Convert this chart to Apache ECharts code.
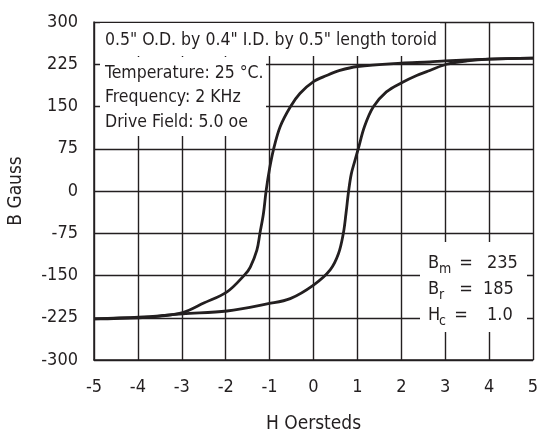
<!DOCTYPE html>
<html>
<head>
<meta charset="utf-8">
<script src="https://cdn.jsdelivr.net/npm/echarts@6/dist/echarts.min.js"></script>
<style>
  html, body { margin: 0; padding: 0; background: #fff; }
  #main { width: 543px; height: 432px; }
</style>
</head>
<body>
<div id="main"></div>
<script>
// descending branch (from +Hmax back to -Hmax)
var downH = [5, 4, 3, 2.65, 2, 1, 0.6, 0.3, 0, -0.31, -0.53, -0.76, -0.91, -1.0, -1.08, -1.14, -1.22, -1.29, -1.44, -1.56, -1.97, -2.5, -2.98, -3.49, -3.98, -5];
var downB = [236, 234, 231, 229, 227, 221, 214, 205, 194, 173, 149, 114, 74, 40, 0, -40, -75, -105, -135, -148, -179, -199, -216, -222, -225, -227];
// ascending branch
var upH = [-5, -3.98, -2.98, -1.97, -1.03, -0.53, 0, 0.38, 0.57, 0.68, 0.74, 0.8, 0.86, 0.94, 1.02, 1.16, 1.36, 1.66, 2.03, 2.35, 2.65, 3.03, 3.5, 4, 5];
var upB = [-227, -224, -218, -213, -200, -191, -167, -140, -111, -75, -40, 0, 30, 53, 75, 114, 149, 176, 193, 205, 214, 225, 231, 234, 236];

var xTicks = [-5, 5, 1];
var yTicks = [-300, 300, 75];

var titleText = '0.5" O.D. by 0.4" I.D. by 0.5" length toroid';
var condLines = ['Temperature: 25 °C.', 'Frequency: 2 KHz', 'Drive Field: 5.0 oe'];
var paramMain = ['B', 'B', 'H'];
var paramSub = ['m', 'r', 'c'];
var paramVal = ['235', '185', '1.0'];

var FONT = '"Liberation Sans Narrow", "DejaVu Sans Condensed", Arial, sans-serif';
var INK = '#231f20';

function zip(a, b) {
  var out = [];
  for (var i = 0; i < a.length; i++) out.push([a[i], b[i]]);
  return out;
}

function txt(x, y, s, size, align) {
  return {
    type: 'text', x: x, y: y, z: 10,
    style: { text: s, fill: INK, font: size + 'px ' + FONT, align: align || 'left', verticalAlign: 'middle' }
  };
}

var graphics = [
  { type: 'rect', z: 5, shape: { x: 100, y: 23, width: 340, height: 33 }, style: { fill: '#fff' } },
  { type: 'rect', z: 5, shape: { x: 100, y: 57, width: 166, height: 79 }, style: { fill: '#fff' } },
  { type: 'rect', z: 5, shape: { x: 420, y: 242, width: 107, height: 90 }, style: { fill: '#fff' } },
  txt(105, 40, titleText, 17.5)
];
for (var i = 0; i < condLines.length; i++) {
  graphics.push(txt(105, 73 + i * 24.5, condLines[i], 17.5));
}
var rowY = [263, 289, 315];
var eqX = [466, 466, 461];
var valX = [487, 483, 487];
for (var j = 0; j < 3; j++) {
  graphics.push(txt(428, rowY[j], paramMain[j], 18));
  graphics.push(txt(439, rowY[j] + 6, paramSub[j], 14));
  graphics.push(txt(eqX[j], rowY[j], '=', 18, 'center'));
  graphics.push(txt(valX[j], rowY[j], paramVal[j], 18));
}

var chart = echarts.init(document.getElementById('main'));
var option = {
  backgroundColor: '#fff',
  animation: false,
  textStyle: { fontFamily: FONT },
  grid: { left: 94, right: 10, top: 22, bottom: 72, outerBoundsMode: 'none' },
  xAxis: {
    type: 'value', min: xTicks[0], max: xTicks[1], interval: xTicks[2],
    name: 'H Oersteds', nameLocation: 'middle', nameGap: 55,
    nameTextStyle: { fontSize: 19, color: INK, fontFamily: FONT },
    axisLine: { show: true, onZero: false, lineStyle: { color: INK, width: 1.5 } },
    axisTick: { show: false },
    axisLabel: { fontSize: 18, color: INK, margin: 18, fontFamily: FONT },
    splitLine: { show: true, lineStyle: { color: INK, width: 1.4 } }
  },
  yAxis: {
    type: 'value', min: yTicks[0], max: yTicks[1], interval: yTicks[2],
    name: 'B Gauss', nameLocation: 'middle', nameGap: 68,
    nameTextStyle: { fontSize: 19, color: INK, fontFamily: FONT },
    axisLine: { show: true, onZero: false, lineStyle: { color: INK, width: 1.5 } },
    axisTick: { show: false },
    axisLabel: { fontSize: 18, color: INK, margin: 16, fontFamily: FONT },
    splitLine: { show: true, lineStyle: { color: INK, width: 1.4 } }
  },
  series: [{
    type: 'line', data: zip(downH, downB), smooth: 0.35, showSymbol: false, z: 20,
    lineStyle: { color: INK, width: 2.8 }
  }, {
    type: 'line', data: zip(upH, upB), smooth: 0.35, showSymbol: false, z: 20,
    lineStyle: { color: INK, width: 2.8 }
  }],
  graphic: graphics
};
chart.setOption(option);
window.onresize = chart.resize;
</script>
</body>
</html>
